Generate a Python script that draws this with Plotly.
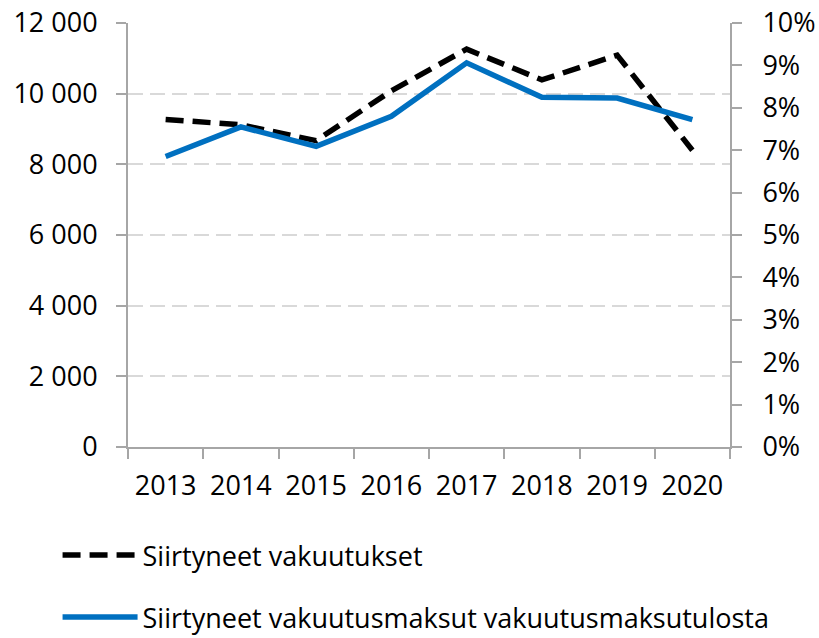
import plotly.graph_objects as go

years = ["2013", "2014", "2015", "2016", "2017", "2018", "2019", "2020"]
siirtyneet_vakuutukset = [9270, 9120, 8670, 10080, 11260, 10390, 11090, 8400]
maksut_osuus = [0.0685, 0.0755, 0.0709, 0.0780, 0.0906, 0.0825, 0.0823, 0.0772]

font_family = "Open Sans"
axis_grey = "#a6a6a6"

fig = go.Figure()

fig.add_trace(go.Scatter(
    x=years,
    y=siirtyneet_vakuutukset,
    mode='lines',
    name='Siirtyneet vakuutukset',
    legendgroup='a',
    line=dict(color='black', width=5.5, dash='18px,9px'),
    yaxis='y'
))

fig.add_trace(go.Scatter(
    x=years,
    y=maksut_osuus,
    mode='lines',
    name='Siirtyneet vakuutusmaksut vakuutusmaksutulosta',
    legendgroup='b',
    line=dict(color='#0070C0', width=5.5),
    yaxis='y2'
))

fig.update_layout(
    width=819,
    height=638,
    margin=dict(l=128, r=89, t=23, b=191, autoexpand=False),
    paper_bgcolor='white',
    plot_bgcolor='white',
    separators=', ',
    font=dict(family=font_family, size=27, color='black'),
    showlegend=True,
    legend=dict(
        x=-0.117, xanchor='left',
        y=-0.198, yanchor='top',
        itemwidth=75,
        traceorder='grouped',
        tracegroupgap=24,
        font=dict(size=27),
        bgcolor='rgba(0,0,0,0)'
    ),
    xaxis=dict(
        type='category',
        range=[-0.5, 7.5],
        showline=True, linecolor=axis_grey, linewidth=2,
        ticks='outside', ticklen=10, tickcolor=axis_grey, tickwidth=2,
        tickson='boundaries',
        showgrid=False,
        ticklabelstandoff=14
    ),
    yaxis=dict(
        range=[0, 12000],
        dtick=2000,
        tickformat=',d',
        showline=True, linecolor=axis_grey, linewidth=2,
        ticks='outside', ticklen=10, tickcolor=axis_grey, tickwidth=2,
        showgrid=True, gridcolor='#d9d9d9', gridwidth=2, griddash='15px,7px',
        zeroline=False,
        ticklabelstandoff=13
    ),
    yaxis2=dict(
        overlaying='y',
        side='right',
        range=[0, 0.1],
        dtick=0.01,
        tickformat='.0%',
        showline=True, linecolor=axis_grey, linewidth=2,
        ticks='outside', ticklen=10, tickcolor=axis_grey, tickwidth=2,
        showgrid=False,
        zeroline=False,
        ticklabelstandoff=15
    )
)

fig.write_html("out.html", config={'displayModeBar': False},
               post_script="document.body.style.margin='0px';")
